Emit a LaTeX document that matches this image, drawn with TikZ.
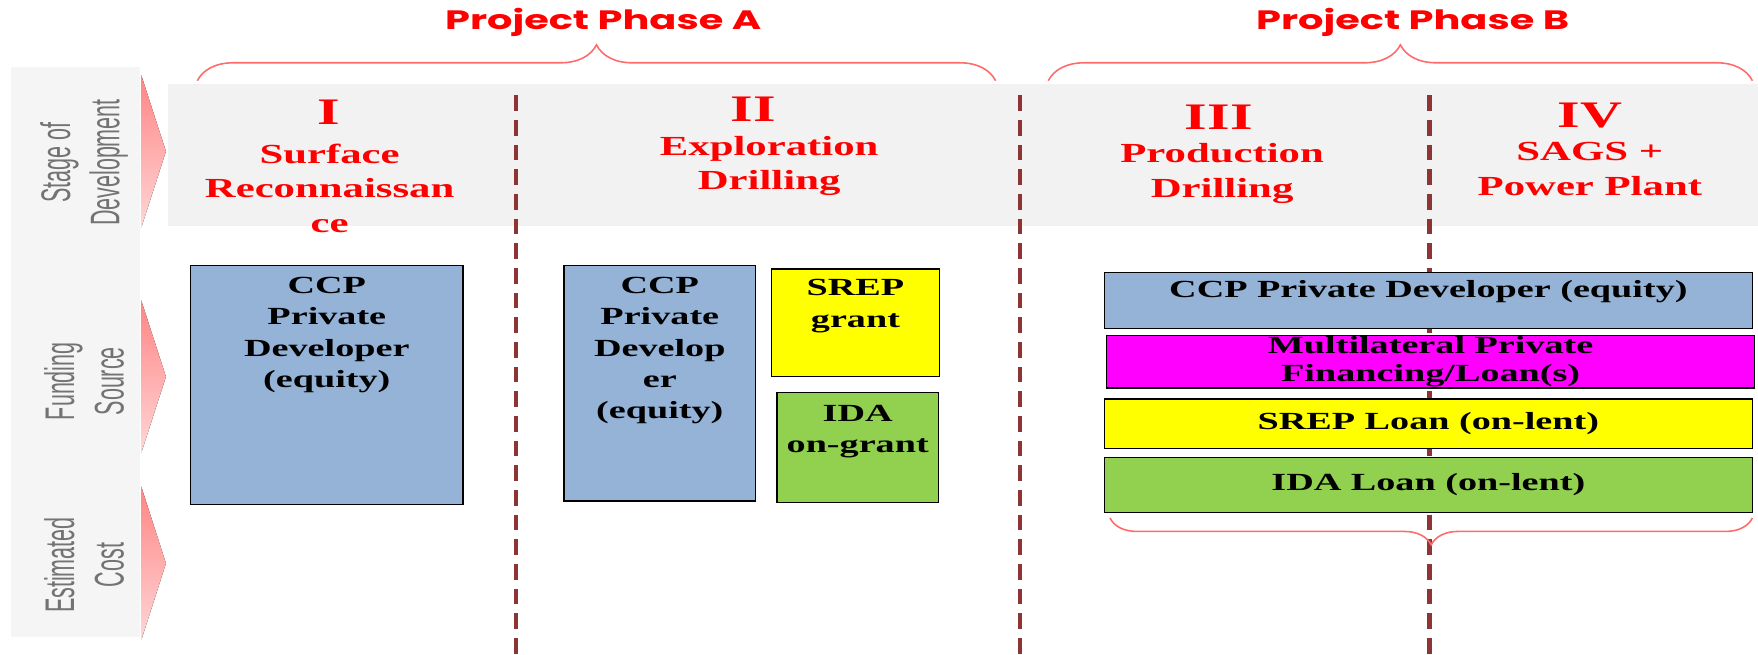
\documentclass[tikz,border=0pt]{standalone}
\usepackage{fontspec}
\usetikzlibrary{decorations.pathreplacing}

\newfontfamily\phasefont[FakeStretch=1.5]{Poppins}
\newfontfamily\serifbold[FakeStretch=1.55]{Liberation Serif}
\newfontfamily\sidefont[FakeStretch=0.52]{Liberation Sans}

\definecolor{ccpblue}{HTML}{95B3D7}
\definecolor{idagreen}{HTML}{92D050}
\definecolor{srepyellow}{HTML}{FFFF00}
\definecolor{multimagenta}{HTML}{FF00FF}
\definecolor{bandgray}{HTML}{F2F2F2}
\definecolor{sidegray}{HTML}{F5F5F5}
\definecolor{sepred}{HTML}{8E3434}
\definecolor{bracered}{HTML}{FF6A6A}
\definecolor{labelgray}{HTML}{737373}

\begin{document}
\begin{tikzpicture}[x=0.2mm, y=-0.2mm,
  fund/.style={draw=black, line width=0.7pt, inner sep=0pt, align=center,
    font=\serifbold\bfseries\fontsize{12.5}{15.9}\selectfont},
  fundtext/.style={font=\serifbold\bfseries\fontsize{12.5}{15.9}\selectfont, align=center, inner sep=0pt},
  numeral/.style={font=\serifbold\bfseries\fontsize{19}{22}\selectfont, text=red, inner sep=0pt},
  stagename/.style={font=\serifbold\bfseries\fontsize{14}{17.6}\selectfont, text=red, align=center, inner sep=0pt},
  phase/.style={font=\phasefont\bfseries\fontsize{13.5}{16}\selectfont, text=red, inner sep=0pt},
  sidelabel/.style={font=\sidefont\fontsize{21}{25}\selectfont, text=labelgray, align=center, rotate=90, inner sep=0pt},
  sidearrow/.style={top color=red!48, bottom color=red!16, draw=none},
  stagesep/.style={sepred, line width=2.1pt, dash pattern=on 0.28cm off 0.16cm},
  phasebrace/.style={bracered, line width=0.8pt, decorate, decoration={brace, amplitude=#1}},
  phasebrace/.default=0.64cm]

  \useasboundingbox (0,0) rectangle (1568,584);

  % grey bands behind the headings and the row labels
  \fill[bandgray] (150,75) rectangle (1568,202);
  \fill[sidegray] (10,60) rectangle (125,568);

  % pink pointers of the row labels
  \foreach \ya/\yb in {67/203, 268/404, 434/571}
    \fill[sidearrow] (126,\ya) -- (148,{(\ya+\yb)/2}) -- (126,\yb) -- cycle;

  \node[sidelabel] (stagelbl) at (75,145) {Stage of\\Development};
  \node[sidelabel] (fundlbl) at (75,340) {Funding\\Source};
  \node[sidelabel] (costlbl) at (75,504) {Estimated\\Cost};

  % stage separators
  \foreach \x in {460, 910, 1275}
    \draw[stagesep] (\x,85) -- (\x,584);

  % phases
  \node[phase] (phaseA) at (538,20) {Project Phase A};
  \node[phase] (phaseB) at (1260,20) {Project Phase B};
  \coordinate (phaseAw) at (176,72);
  \coordinate (phaseAe) at (888,72);
  \coordinate (phaseBw) at (935,72);
  \coordinate (phaseBe) at (1563,72);
  \draw[phasebrace] (phaseAw) -- (phaseAe);
  \draw[phasebrace] (phaseBw) -- (phaseBe);

  % stages
  \node[numeral] (stI) at (293,100) {I};
  \node[stagename] (stIname) at (294,168) {Surface\\Reconnaissan\\ce};
  \node[numeral] (stII) at (672,97) {II};
  \node[stagename] (stIIname) at (686,148) {Exploration\\Drilling};
  \node[numeral] (stIII) at (1087,105) {III};
  \node[stagename] (stIIIname) at (1090,155) {Production\\Drilling};
  \node[numeral] (stIV) at (1418,103) {IV};
  \node[stagename] (stIVname) at (1418,151) {SAGS +\\Power Plant};

  % funding, stage I
  \node[fund, fill=ccpblue, minimum width=4.86cm, minimum height=4.26cm] (ccpI) at (291.5,343.5) {};
  \node[fundtext, anchor=north] (ccpItext) at (291.5,247) {CCP\\Private\\Developer\\(equity)};

  % funding, stage II
  \node[fund, fill=ccpblue, minimum width=3.42cm, minimum height=4.2cm] (ccpII) at (588.5,342) {};
  \node[fundtext, anchor=north] (ccpIItext) at (588.5,247) {CCP\\Private\\Develop\\er\\(equity)};
  \node[fund, fill=srepyellow, minimum width=3cm, minimum height=1.92cm] (srepII) at (763,288) {};
  \node[fundtext, anchor=north] (srepIItext) at (763,249) {SREP\\grant};
  \node[fund, fill=idagreen, minimum width=2.88cm, minimum height=1.96cm] (idaII) at (765,399) {};
  \node[fundtext, anchor=north] (idaIItext) at (765,361) {IDA\\on-grant};

  % funding, stages III and IV
  \node[fund, fill=ccpblue, minimum width=11.56cm, minimum height=1cm] (ccpB) at (1274,268) {};
  \node[fundtext, anchor=north] (ccpBtext) at (1274,250) {CCP Private Developer (equity)};
  \node[fund, fill=multimagenta, minimum width=11.56cm, minimum height=0.94cm,
    font=\serifbold\bfseries\fontsize{12.5}{14.2}\selectfont] (multiB) at (1276,322.5)
    {Multilateral Private\\Financing/Loan(s)};
  \node[fund, fill=srepyellow, minimum width=11.56cm, minimum height=0.88cm] (srepB) at (1274,378) {SREP Loan (on-lent)};
  \node[fund, fill=idagreen, minimum width=11.56cm, minimum height=0.98cm] (idaB) at (1274,432.5) {IDA Loan (on-lent)};

  % cost brace under phase B
  \coordinate (costBe) at (1563,462);
  \coordinate (costBw) at (990,462);
  \draw[phasebrace=0.48cm] (costBe) -- (costBw);
\end{tikzpicture}
\end{document}
